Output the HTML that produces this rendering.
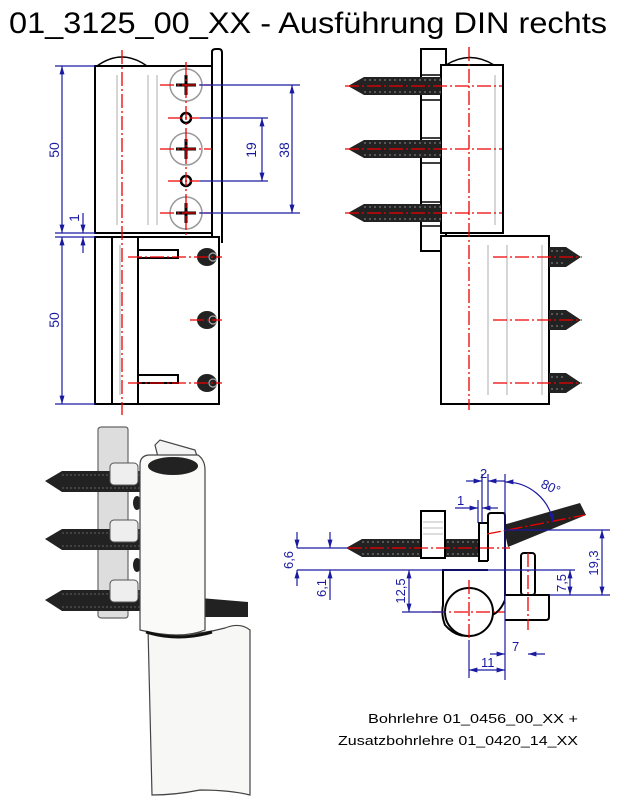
<!DOCTYPE html>
<html><head><meta charset="utf-8"><style>
html,body{margin:0;padding:0;background:#fff}
svg{display:block}
text{font-family:"Liberation Sans",sans-serif}
</style></head><body>
<svg width="629" height="800" viewBox="0 0 629 800" xmlns="http://www.w3.org/2000/svg">
<defs>
<marker id="a" viewBox="0 0 10 10" refX="10" refY="5" markerWidth="7" markerHeight="7" orient="auto-start-reverse"><path d="M0,2 L10,5 L0,8 z" fill="#1a1aa0"/></marker>
</defs>
<text x="9" y="33" font-size="30" textLength="598" lengthAdjust="spacingAndGlyphs" fill="#000">01_3125_00_XX - Ausführung DIN rechts</text>

<!-- LEFT VIEW -->
<g fill="none" stroke="#000" stroke-width="2">
<path d="M97,66 Q122,48 147,66" stroke-width="1.5"/>
<rect x="95" y="66" width="117" height="167" fill="#fff"/>
<path d="M212,243 L212,52 Q212,49 216,49 L219,49 Q222,49 222,53 L222,243" />
<rect x="95" y="237" width="124" height="167" fill="#fff"/>
<line x1="112" y1="237" x2="112" y2="404"/>
<line x1="138" y1="237" x2="138" y2="404"/>
<rect x="138" y="250" width="40" height="8"/>
<rect x="138" y="375" width="40" height="8"/>
</g>
<g stroke="#bbb" stroke-width="1.2"><line x1="117" y1="75" x2="117" y2="225"/><line x1="148" y1="75" x2="148" y2="225"/><line x1="157" y1="75" x2="157" y2="225"/><line x1="120" y1="245" x2="120" y2="395"/></g>
<g fill="#fff" stroke="#999" stroke-width="1.5">
<circle cx="186" cy="85" r="16"/><circle cx="186" cy="149" r="16"/><circle cx="186" cy="213" r="16"/>
</g>
<g stroke="#000" stroke-width="3"><path d="M176,85h20M186,75v20M176,149h20M186,139v20M176,213h20M186,203v20"/></g>
<g fill="none" stroke="#000" stroke-width="2.5"><circle cx="186" cy="118" r="5"/><circle cx="186" cy="181" r="5"/></g>
<g fill="#222"><ellipse cx="207" cy="257" rx="10" ry="9"/><ellipse cx="207" cy="320" rx="10" ry="9"/><ellipse cx="207" cy="383" rx="10" ry="9"/></g>
<g fill="none" stroke="#aaa" stroke-width="1.2"><circle cx="213" cy="257" r="4"/><circle cx="213" cy="320" r="4"/><circle cx="213" cy="383" r="4"/></g>
<g stroke="#e00" stroke-width="1.3" stroke-dasharray="14,3,2,3">
<line x1="122" y1="50" x2="122" y2="415"/><line x1="186" y1="62" x2="186" y2="237"/>
<line x1="160" y1="85" x2="212" y2="85"/><line x1="168" y1="118" x2="200" y2="118"/><line x1="160" y1="149" x2="212" y2="149"/><line x1="168" y1="181" x2="200" y2="181"/><line x1="160" y1="213" x2="212" y2="213"/>
<line x1="128" y1="257" x2="222" y2="257"/><line x1="190" y1="320" x2="222" y2="320"/><line x1="128" y1="383" x2="222" y2="383"/>
</g>
<g stroke="#1a1aa0" stroke-width="1.2" fill="none">
<line x1="55" y1="66" x2="95" y2="66"/><line x1="55" y1="233" x2="95" y2="233"/><line x1="55" y1="237" x2="95" y2="237"/><line x1="55" y1="404" x2="95" y2="404"/>
<line x1="62" y1="66" x2="62" y2="233" marker-start="url(#a)" marker-end="url(#a)"/>
<line x1="62" y1="237" x2="62" y2="404" marker-start="url(#a)" marker-end="url(#a)"/>
<line x1="83" y1="213" x2="83" y2="233" marker-end="url(#a)"/><line x1="83" y1="253" x2="83" y2="237" marker-end="url(#a)"/>
<line x1="200" y1="85" x2="300" y2="85"/><line x1="200" y1="213" x2="300" y2="213"/>
<line x1="200" y1="118" x2="268" y2="118"/><line x1="200" y1="181" x2="268" y2="181"/>
<line x1="292" y1="85" x2="292" y2="213" marker-start="url(#a)" marker-end="url(#a)"/>
<line x1="262" y1="118" x2="262" y2="181" marker-start="url(#a)" marker-end="url(#a)"/>
</g>
<g fill="#1a1aa0" font-size="14">
<text transform="translate(59,150) rotate(-90)" text-anchor="middle">50</text>
<text transform="translate(59,320) rotate(-90)" text-anchor="middle">50</text>
<text transform="translate(79,218) rotate(-90)" text-anchor="middle">1</text>
<text transform="translate(256,150) rotate(-90)" text-anchor="middle">19</text>
<text transform="translate(289,150) rotate(-90)" text-anchor="middle">38</text>
</g>

<!-- RIGHT VIEW -->
<g fill="none" stroke="#000" stroke-width="2">
<rect x="421" y="49" width="25" height="202" fill="#fff"/>
<path d="M446,65 Q470,50 494,65" stroke-width="1.5"/>
<rect x="441" y="65" width="62" height="168" fill="#fff"/>
<rect x="441" y="236" width="108" height="168" fill="#fff"/>
<path d="M421,75h20M421,100h20M421,138h20M421,163h20M421,202h20M421,226h20" stroke-width="1.5"/>
</g>
<g stroke="#bbb" stroke-width="1.2"><line x1="495" y1="75" x2="495" y2="225"/><line x1="488" y1="245" x2="488" y2="395"/><line x1="507" y1="245" x2="507" y2="395"/><line x1="542" y1="245" x2="542" y2="395"/></g>
<g fill="#222">
<path d="M348,86 L364,77 H441 V95 H364 Z"/><path d="M348,149 L364,140 H441 V158 H364 Z"/><path d="M348,213 L364,204 H441 V222 H364 Z"/>
<path d="M549,247 H566 L581,257 L566,267 H549 Z"/><path d="M549,310 H566 L581,320 L566,330 H549 Z"/><path d="M549,373 H566 L581,383 L566,393 H549 Z"/>
</g>
<g stroke="#777" stroke-width="1.2" stroke-dasharray="2,3"><path d="M364,80H441M364,92H441M364,143H441M364,155H441M364,207H441M364,219H441M551,251H566M551,263H566M551,314H566M551,326H566M551,377H566M551,389H566"/></g>
<g stroke="#e00" stroke-width="1.3" stroke-dasharray="14,3,2,3">
<line x1="469" y1="47" x2="469" y2="410"/>
<line x1="345" y1="86" x2="502" y2="86"/><line x1="345" y1="149" x2="502" y2="149"/><line x1="345" y1="213" x2="502" y2="213"/>
<line x1="493" y1="257" x2="582" y2="257"/><line x1="493" y1="320" x2="582" y2="320"/><line x1="493" y1="383" x2="582" y2="383"/>
</g>

<!-- 3D VIEW -->
<path d="M98,430 Q98,427 102,427 L125,427 Q128,427 128,430 L128,615 Q128,618 125,618 L102,618 Q98,618 98,615 Z" fill="#ddd" stroke="#666" stroke-width="1.2"/>
<g fill="#222">
<path d="M45,481 L62,471 H145 V492 H62 Z"/><path d="M45,539 L62,529 H145 V550 H62 Z"/><path d="M45,600 L62,590 H145 V611 H62 Z"/>
<path d="M200,598 L248,602 L248,617 L200,617 Z"/>
<ellipse cx="137" cy="503" rx="4" ry="7"/><ellipse cx="137" cy="565" rx="4" ry="7"/>
</g>
<g stroke="#555" stroke-width="1.2" stroke-dasharray="2,2"><path d="M62,475H145M62,488H145M62,533H145M62,546H145M62,594H145M62,607H145"/></g>
<g fill="#eee" stroke="#555" stroke-width="1"><rect x="110" y="463" width="28" height="22" rx="4"/><rect x="110" y="520" width="28" height="22" rx="4"/><rect x="110" y="580" width="28" height="22" rx="4"/></g>
<path d="M155,445 L160,440 L195,450 L200,465 L160,465 Z" fill="#f4f4f4" stroke="#444" stroke-width="1.2"/>
<path d="M148,628 Q180,640 225,628 Q240,622 250,630 L250,795 Q230,790 200,790 Q175,795 152,795 Z" fill="#f7f7f5" stroke="#444" stroke-width="1.2"/>
<path d="M140,465 Q140,455 150,455 L198,455 Q205,460 205,470 L205,630 Q180,640 140,630 Z" fill="#fafaf8" stroke="#444" stroke-width="1.2"/>
<ellipse cx="173" cy="466" rx="25" ry="9" fill="#222"/>
<path d="M146,632 Q178,642 212,632" stroke="#111" stroke-width="3" fill="none"/>

<!-- SECTION VIEW -->
<g fill="#222">
<path d="M346,548 L362,539 H479 V557 H362 Z"/>
<path d="M503,525 L580,503 L586,515 L508,547 Z"/>
</g>
<g stroke="#777" stroke-width="1.2" stroke-dasharray="2,3"><path d="M362,542H479M362,554H479"/></g>
<g fill="#fff" stroke="#000" stroke-width="2">
<rect x="421" y="511" width="24" height="47"/>
<rect x="479" y="523" width="9" height="38"/>
<path d="M488,561 V516 Q488,513 491,513 H503 Q505,513 505,516 V600 Q500,612 492,615 Q478,622 478,632 Q460,642 445,625 Q441,615 443,605 V570 H488"/>
<circle cx="469" cy="612" r="24"/>
<path d="M505,595 H549 V617 Q549,620 546,620 H505"/>
<rect x="521" y="553" width="14" height="42" rx="3"/>
</g>
<g stroke="#bbb" stroke-width="1"><path d="M423,522h20M423,528h20M423,534h20"/></g>
<g stroke="#e00" stroke-width="1.3" stroke-dasharray="14,3,2,3">
<line x1="348" y1="548" x2="510" y2="548"/><line x1="487" y1="534" x2="585" y2="515"/>
<line x1="432" y1="612" x2="505" y2="612"/><line x1="469" y1="580" x2="469" y2="640"/>
<line x1="528" y1="553" x2="528" y2="630"/>
</g>
<g stroke="#1a1aa0" stroke-width="1.2" fill="none">
<line x1="505" y1="474" x2="505" y2="680"/>
<line x1="482" y1="474" x2="482" y2="523"/><line x1="488" y1="474" x2="488" y2="510"/><line x1="478" y1="500" x2="478" y2="523"/>
<line x1="466" y1="481" x2="482" y2="481" marker-end="url(#a)"/><line x1="505" y1="481" x2="488" y2="481" marker-end="url(#a)"/>
<line x1="455" y1="508" x2="478" y2="508" marker-end="url(#a)"/><line x1="498" y1="508" x2="482" y2="508" marker-end="url(#a)"/>
<path d="M505,482 A48,48 0 0 1 553,522" marker-start="url(#a)" marker-end="url(#a)"/>
<line x1="297" y1="548" x2="348" y2="548"/><line x1="297" y1="570" x2="575" y2="570"/>
<line x1="297" y1="532" x2="297" y2="548" marker-end="url(#a)"/><line x1="297" y1="586" x2="297" y2="570" marker-end="url(#a)"/>
<line x1="330" y1="532" x2="330" y2="548" marker-end="url(#a)"/><line x1="330" y1="600" x2="330" y2="570" marker-end="url(#a)"/>
<line x1="409" y1="570" x2="409" y2="612" marker-start="url(#a)" marker-end="url(#a)"/><line x1="402" y1="612" x2="445" y2="612"/>
<line x1="505" y1="530" x2="610" y2="530"/><line x1="549" y1="595" x2="610" y2="595"/>
<line x1="570" y1="570" x2="570" y2="595" marker-start="url(#a)" marker-end="url(#a)"/>
<line x1="602" y1="530" x2="602" y2="595" marker-start="url(#a)" marker-end="url(#a)"/>
<line x1="469" y1="640" x2="469" y2="678"/>
<line x1="469" y1="670" x2="505" y2="670" marker-start="url(#a)" marker-end="url(#a)"/>
<line x1="490" y1="654" x2="505" y2="654" marker-end="url(#a)"/><line x1="545" y1="654" x2="528" y2="654" marker-end="url(#a)"/>
</g>
<g fill="#1a1aa0" font-size="13">
<text x="480" y="478">2</text><text x="457" y="505">1</text>
<text transform="translate(540,487) rotate(25)">80°</text>
<text transform="translate(293,560) rotate(-90)" text-anchor="middle">6,6</text>
<text transform="translate(326,588) rotate(-90)" text-anchor="middle">6,1</text>
<text transform="translate(405,591) rotate(-90)" text-anchor="middle">12,5</text>
<text transform="translate(566,583) rotate(-90)" text-anchor="middle">7,5</text>
<text transform="translate(598,563) rotate(-90)" text-anchor="middle">19,3</text>
<text x="481" y="667">11</text><text x="512" y="651">7</text>
</g>
<g fill="#000" font-size="13">
<text x="578" y="723" text-anchor="end" textLength="210" lengthAdjust="spacingAndGlyphs">Bohrlehre 01_0456_00_XX +</text>
<text x="578" y="745" text-anchor="end" textLength="240" lengthAdjust="spacingAndGlyphs">Zusatzbohrlehre 01_0420_14_XX</text>
</g>
</svg>
</body></html>
